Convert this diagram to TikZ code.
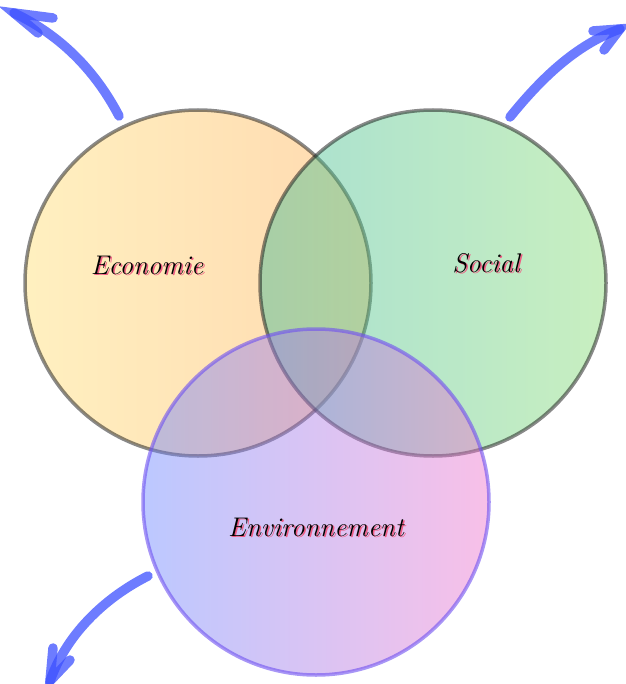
\documentclass[tikz,border=0pt]{standalone}
\usetikzlibrary{shadings}
\definecolor{econL}{RGB}{255,222,115}
\definecolor{econR}{RGB}{255,171,79}
\definecolor{socL}{RGB}{62,186,151}
\definecolor{socR}{RGB}{133,219,115}
\definecolor{envL}{RGB}{106,133,255}
\definecolor{envR}{RGB}{239,115,204}
\definecolor{rimgray}{RGB}{20,20,20}
\definecolor{rimpurple}{RGB}{110,80,240}
\definecolor{arrowblue}{RGB}{60,80,255}
\definecolor{shadowpink}{RGB}{240,90,130}
\tikzset{
  setcircle/.style={circle, minimum size=346pt, inner sep=0pt, line width=3.5pt, fill opacity=0.45, draw opacity=0.5},
  bluearrow/.style={draw=arrowblue, line width=9.5pt, line cap=round, draw opacity=0.75},
  label/.style={font=\fontsize{27}{30}\selectfont\itshape, text=black},
  labelshadow/.style={font=\fontsize{27}{30}\selectfont\itshape, text=shadowpink},
}
\begin{document}
\begin{tikzpicture}[x=1pt,y=-1pt]
\useasboundingbox (0,0) rectangle (625,684);
\node[setcircle, draw=rimgray, left color=econL, right color=econR] (econ) at (198,283) {};
\node[setcircle, draw=rimgray, left color=socL, right color=socR] (soc) at (433,283) {};
\node[setcircle, draw=rimpurple, draw opacity=0.6, left color=envL, right color=envR] (env) at (316,502) {};

\node[labelshadow] at (148.5,266.5) {Economie};
\node[label] (econtext) at (147,265) {Economie};
\node[labelshadow] at (487.5,264.5) {Social};
\node[label] (soctext) at (486,263) {Social};
\node[labelshadow] at (317.5,528.5) {Environnement};
\node[label] (envtext) at (316,527) {Environnement};

% top-left arrow
\coordinate (a1s) at (119,116);
\coordinate (a1t) at (14,13);
\coordinate (a1b1) at (53,18);
\coordinate (a1b2) at (38,33);
\draw[bluearrow] (a1s) .. controls (95,70) and (60,35) .. (a1t);
\draw[bluearrow] (a1b1) -- (a1t) -- (a1b2);
% top-right arrow
\coordinate (a2s) at (510,117);
\coordinate (a2t) at (620,29);
\coordinate (a2b1) at (593,31);
\coordinate (a2b2) at (604,50);
\draw[bluearrow] (a2s) .. controls (540,80) and (575,45) .. (a2t);
\draw[bluearrow] (a2b1) -- (a2t) -- (a2b2);
% bottom-left arrow
\coordinate (a3s) at (148,576);
\coordinate (a3t) at (50,681);
\coordinate (a3b1) at (53,648);
\coordinate (a3b2) at (70,660);
\draw[bluearrow] (a3s) .. controls (110,595) and (68,630) .. (a3t);
\draw[bluearrow] (a3b1) -- (a3t) -- (a3b2);
\end{tikzpicture}
\end{document}
